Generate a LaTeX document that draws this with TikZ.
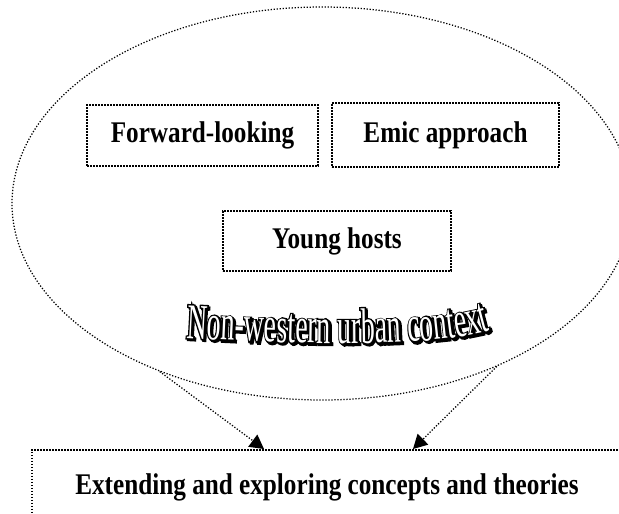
\documentclass[tikz,border=0pt]{standalone}
\usepackage{fontspec}
\setmainfont{Liberation Serif}
\usetikzlibrary{shapes.geometric,arrows.meta,decorations.text,calc}
% condensed bold serif for the box labels
\newfontfamily\labelfont[FakeStretch=0.84]{Liberation Serif}
% tall outlined lettering: thick black layers under a thin white one
\newfontfamily\artedge[FakeStretch=0.56,FakeBold=6]{Liberation Serif}
\newfontfamily\artface[FakeStretch=0.56]{Liberation Serif}

\begin{document}
\begin{tikzpicture}[x=1pt,y=-1pt,
  dots/.style={line width=1.25pt, dash pattern=on 1.25pt off 1.75pt},
  boxdots/.style={line width=1.6pt, dash pattern=on 1.6pt off 1.4pt},
  idea/.style={draw, boxdots, rectangle, inner sep=0pt,
    font=\labelfont\bfseries\fontsize{30}{36}\selectfont},
  flow/.style={dots, -{Triangle[length=14pt,width=15pt]}},
  arttext/.style={decorate, decoration={text along path, text align=center,
    text color=#1}}]

\useasboundingbox (0,0) rectangle (619,514);
\clip (0,0) rectangle (619,514);

% surrounding context
\node[ellipse, draw, dots, minimum width=620pt, minimum height=393pt,
      inner sep=0pt] (ctx) at (322,203.5) {};

% the three characteristics
\node[idea, minimum width=231pt, minimum height=61pt] (fwd) at (202.5,135.5) {Forward-looking};
\node[idea, minimum width=227pt, minimum height=64pt] (emic) at (445.5,135) {Emic approach};
\node[idea, minimum width=228pt, minimum height=60pt] (young) at (337,241) {Young hosts};

% curved title of the ellipse: shadow, outline, face
\path[arttext=black, decoration={text={|\artedge\fontsize{50}{50}\selectfont|Non-western urban context}}]
  (185.5,339.5) .. controls (331.5,347.5) and (441.5,347.5) .. (493.5,331.5);
\path[arttext=black, decoration={text={|\artedge\fontsize{50}{50}\selectfont|Non-western urban context}}]
  (184,338) .. controls (330,346) and (440,346) .. (492,330);
\path[arttext=white, decoration={text={|\artface\fontsize{50}{50}\selectfont|Non-western urban context}}]
  (184,338) .. controls (330,346) and (440,346) .. (492,330);

% outcome box running off the page
\node[draw, boxdots, anchor=north west, minimum width=650pt, minimum height=120pt,
      inner sep=0pt] (outcome) at (31,449) {};
\node[font=\labelfont\bfseries\fontsize{30}{36}\selectfont, anchor=base, inner sep=0pt]
  (outcometext) at (327,494) {Extending and exploring concepts and theories};

\coordinate (inL) at ($(outcome.north west)+(233,0)$);
\coordinate (inR) at ($(outcome.north west)+(382,0)$);

\draw[flow] (ctx.226) -- (inL);
\draw[flow] (ctx.317.5) -- (inR);
\end{tikzpicture}
\end{document}
